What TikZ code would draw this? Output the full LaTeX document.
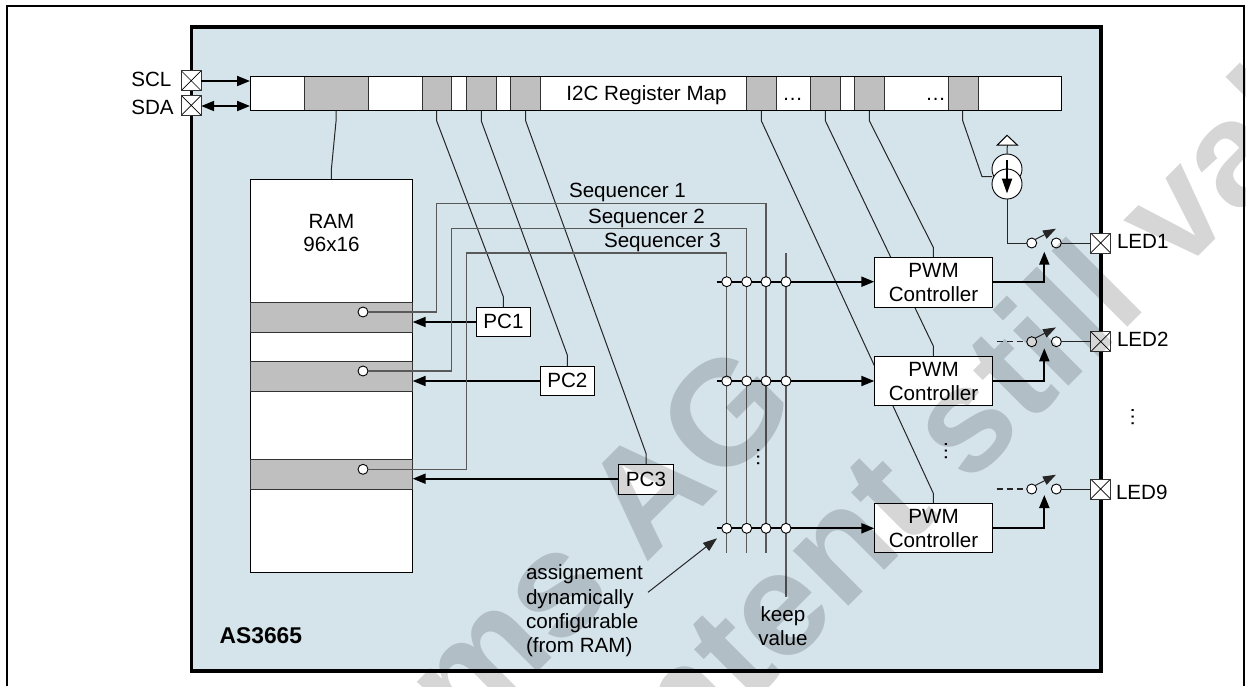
\documentclass[tikz,border=0pt]{standalone}
\usepackage{fontspec}
\setmainfont{Liberation Sans}
\usetikzlibrary{arrows.meta,calc}
\pgfdeclarelayer{back}
\pgfsetlayers{back,main}
\definecolor{chipfill}{HTML}{D5E3EB}
\definecolor{cellgray}{HTML}{BFBFBF}
\definecolor{wirecol}{HTML}{262626}
\newcommand{\bx}[6][]{\node[#1,anchor=north west,minimum width=#4pt-#3pt,minimum height=#6pt-#5pt] (#2) at (#3,#5) {};}
\tikzset{
  x=1pt,y=-1pt,
  lbl/.style={inner sep=0pt,outer sep=0pt,font=\fontsize{20.6}{25}\selectfont,anchor=base},
  lblw/.style={lbl,anchor=base west},
  wbox/.style={draw=black,fill=white,line width=1pt,inner sep=0pt,outer sep=0pt},
  gbox/.style={draw=black!80,fill=cellgray,line width=1pt,inner sep=0pt,outer sep=0pt},
  wire/.style={draw=wirecol,line width=1pt},
  seqwire/.style={draw=black!65,line width=1.2pt},
  bus/.style={draw=black,line width=2pt},
  head/.style={-{Triangle[length=13pt,width=10pt]}},
  dhead/.style={{Triangle[length=13pt,width=10pt]}-{Triangle[length=13pt,width=10pt]}},
  dot/.style={circle,draw=black,fill=white,line width=0.9pt,minimum size=10pt,inner sep=0pt,outer sep=0pt},
  pad/.style={rectangle,draw=black!80,fill=white,line width=1pt,minimum size=20pt,inner sep=0pt,outer sep=0pt,
    path picture={\draw[black,line width=0.7pt] (path picture bounding box.north west)--(path picture bounding box.south east)
      (path picture bounding box.north east)--(path picture bounding box.south west);}},
  vdots/.style={inner sep=0pt,outer sep=0pt,rotate=90,font=\fontsize{20.8}{25}\selectfont},
  mark text/.style={inner sep=0pt,outer sep=0pt,rotate=45,anchor=base west,text=black!16,font=\fontsize{148}{148}\selectfont\bfseries},
}
\begin{document}
\begin{tikzpicture}
\useasboundingbox (0,0) rectangle (1246,686);
\clip (0,0) rectangle (1246,686);
% page frame and chip on the back layer
\begin{pgfonlayer}{back}
\coordinate (fa) at (7,686); \coordinate (fb) at (7,5.7); \coordinate (fc) at (1244.3,5.7); \coordinate (fd) at (1244.3,686);
\draw[black,line width=2pt] (fa)--(fb)--(fc)--(fd);
\bx[draw=black,fill=chipfill,line width=3.6pt,inner sep=0pt,outer sep=0pt]{chip}{191.5}{1100.7}{27}{670.7}
\end{pgfonlayer}
% register map
\bx[wbox]{regmap}{250}{1061}{76}{110.5}
\bx[gbox]{rc0}{304.3}{368.3}{76}{110.5}
\bx[gbox]{rc1}{422.3}{451.7}{76}{110.5}
\bx[gbox]{rc2}{466.7}{496.3}{76}{110.5}
\bx[gbox]{rc3}{510.7}{540}{76}{110.5}
\bx[gbox]{rc4}{746.7}{776.3}{76}{110.5}
\bx[gbox]{rc5}{810.7}{840.3}{76}{110.5}
\bx[gbox]{rc6}{854.7}{884.3}{76}{110.5}
\bx[gbox]{rc7}{948.3}{978}{76}{110.5}
\draw[black,line width=1pt] (regmap.north west) rectangle (regmap.south east);
\node[lbl] (regtxt) at (646.5,100.5) {I2C Register Map};
\node[lbl] (el1) at (792.7,100) {…};
\node[lbl] (el2) at (935.7,100) {…};
% RAM
\bx[wbox]{ram}{250.3}{412.7}{179}{572.3}
\bx[gbox]{row1}{250.3}{412.7}{302.3}{332}
\bx[gbox]{row2}{250.3}{412.7}{361.3}{391}
\bx[gbox]{row3}{250.3}{412.7}{459.3}{489}
\node[lbl] (ramt) at (331.5,228.3) {RAM};
\node[lbl] (ramu) at (331.5,251.7) {96x16};
% PC boxes
\bx[wbox]{pc1}{476.3}{530.7}{307.3}{336.7}
\bx[wbox]{pc2}{540}{594.7}{366}{395.7}
\bx[wbox]{pc3}{618.7}{673.3}{464.3}{494}
\node[lbl] (pc1t) at (503.5,328.6) {PC1};
\node[lbl] (pc2t) at (567.3,387.9) {PC2};
\node[lbl] (pc3t) at (646,486.2) {PC3};
% pads
\node[pad] (scl) at (191.2,80.7) {};
\node[pad] (sda) at (191.2,105.3) {};
\node[lblw] (sclt) at (131.3,86) {SCL};
\node[lblw] (sdat) at (131.3,114.7) {SDA};
\draw[bus,head] (scl.east |- 0,81) -- (regmap.west |- 0,81);
\draw[bus,dhead] (sda.east |- 0,106) -- (regmap.west |- 0,106);
% register wires
\draw[wire] (rc0.south -| 336,0) -- (336,121.5) -- (331.3,170) -- (ram.north -| 331.3,0);
\draw[wire] (rc1.south -| 436.7,0) -- (436.7,121) -- (503.3,296.7) -- (pc1.north -| 503.3,0);
\draw[wire] (rc2.south -| 481.3,0) -- (481.3,121) -- (567.3,355) -- (pc2.north);
\draw[wire] (rc3.south -| 525.7,0) -- (525.7,121) -- (646,453.3) -- (pc3.north);
% PC arrows
\path (row1.east |- 0,322) coordinate (r1in) (row2.east |- 0,381) coordinate (r2in) (row3.east |- 0,478.7) coordinate (r3in);
\draw[bus,head] (pc1.west |- r1in) -- (r1in);
\draw[bus,head] (pc2.west |- r2in) -- (r2in);
\draw[bus,head] (pc3.west |- r3in) -- (r3in);
% sequencer wires
\node[dot] (c1) at (363,312) {};
\node[dot] (c2) at (363,371) {};
\node[dot] (c3) at (363,469.3) {};
\coordinate (s1end) at (766,552.7);
\coordinate (s2end) at (746.7,552.7);
\coordinate (s3end) at (726.7,552.7);
\coordinate (ktop) at (786,253);
\coordinate (kend) at (786,596.7);
\draw[seqwire] (c1.east) -- (436.7,312) -- (436.7,203.3) -- (s1end |- 0,203.3) -- (s1end);
\draw[seqwire] (c2.east) -- (451.7,371) -- (451.7,228.3) -- (s2end |- 0,228.3) -- (s2end);
\draw[seqwire] (c3.east) -- (466.7,469.3) -- (466.7,253) -- (s3end |- 0,253) -- (s3end);
\draw[seqwire] (ktop) -- (kend);
\node[lblw] (sq1) at (569,197.5) {Sequencer 1};
\node[lblw] (sq2) at (588,223.3) {Sequencer 2};
\node[lblw] (sq3) at (604,247.7) {Sequencer 3};
% PWM boxes, with the long diagonal wires passing behind them
\node[wbox,minimum width=118.4pt,minimum height=49.6pt,anchor=north west] (pwm1) at (874.3,257.7) {};
\node[wbox,minimum width=118.4pt,minimum height=49.3pt,anchor=north west] (pwm2) at (874.3,356) {};
\node[wbox,minimum width=118.4pt,minimum height=49pt,anchor=north west] (pwm3) at (874.3,503.7) {};
\begin{pgfonlayer}{back}
\draw[wire] (rc4.south -| 761.3,0) -- (761.3,120.7) -- (933.3,493.3) -- (pwm3.north -| 933.3,0);
\draw[wire] (rc5.south -| 825.3,0) -- (825.3,120.7) -- (933.3,346) -- (pwm2.north -| 933.3,0);
\draw[wire] (rc6.south -| 869.3,0) -- (869.3,120.7) -- (933.3,247.3) -- (pwm1.north -| 933.3,0);
\end{pgfonlayer}
\foreach \nm/\ya/\yb in {p1/277.3/301.7,p2/376/400,p3/523.3/547.7}{
  \node[lbl] (\nm a) at (933.5,\ya) {PWM};
  \node[lbl] (\nm b) at (933.5,\yb) {Controller};
}
% crossbars
\foreach \r/\y/\p in {1/281.7/pwm1,2/381/pwm2,3/528.3/pwm3}{
  \coordinate (bs\r) at (716.7,\y);
  \draw[bus,head] (bs\r) -- (\p.west |- bs\r);
  \foreach \c/\xx in {a/726.7,b/746.7,c/766,d/786}{ \node[dot] (x\r\c) at (\xx,\y) {}; }
}
\node[vdots] (vd1) at (758.3,456.7) {…};
\node[vdots] (vd2) at (946,451.2) {…};
\node[vdots] (vd3) at (1132.7,416.7) {…};
% current source
\node[dot,minimum size=30pt] (cs1) at (1007,169) {};
\node[dot,minimum size=30pt] (cs2) at (1007,184) {};
\coordinate (csa) at (1007,160);
\coordinate (csb) at (1007,193.5);
\draw[bus,-{Triangle[length=15pt,width=10pt]}] (csa) -- (csb);
\coordinate (tria) at (1007,135.3);
\coordinate (trib) at (997.3,145);
\coordinate (tric) at (1017.3,145);
\draw[black,fill=white,line width=1pt] (tria)--(trib)--(tric)--cycle;
\draw[wire] ($(trib)!0.5!(tric)$) -- (cs1.north);
\draw[wire] (rc7.south -| 962.7,0) -- (962.7,120.7) -- (982,176.7) -- (cs2.west |- 0,176.7);
% switches and outputs
\foreach \r/\y/\tipy/\py/\p/\lab/\lx/\ly in {1/243/251.7/281.7/pwm1/LED1/1117/248.3,2/341.7/348.3/381/pwm2/LED2/1117/346,3/489/495/528.3/pwm3/LED9/1116/499.3}{
  \node[dot] (sl\r) at (1031.7,\y) {};
  \node[dot] (sr\r) at (1056.3,\y) {};
  \node[pad] (led\r) at (1100.7,\y) {};
  \node[lblw] (ledt\r) at (\lx,\ly) {\lab};
  \coordinate (sw\r) at (1056,\y-14.3);
  \coordinate (ti\r) at (1044.3,\tipy);
  \draw[wire] (sr\r.east) -- (led\r.west);
  \draw[wire,-{Triangle[length=13pt,width=9pt]}] (sl\r.north east) -- (sw\r);
  \draw[bus,head] (\p.east |- 0,\py) -- (1044.3,\py) -- (ti\r);
}
\draw[wire] (cs2.south) -- (1007,243) -- (sl1.west);
\coordinate (dl2) at (996.7,341.7);
\coordinate (dl3) at (996.7,489);
\draw[wire,dash pattern=on 6pt off 4pt] (dl2) -- (sl2.west);
\draw[wire,line width=1.5pt,dash pattern=on 6pt off 4pt] (dl3) -- (sl3.west);
% annotations
\node[lblw] (as1) at (526,579.3) {assignement};
\node[lblw] (as2) at (526,604) {dynamically};
\node[lblw] (as3) at (526,628.3) {configurable};
\node[lblw] (as4) at (526,652) {(from RAM)};
\coordinate (asa) at (648,592.3);
\coordinate (asb) at (717,538.3);
\draw[wire,-{Triangle[length=14pt,width=10pt]}] (asa) -- (asb);
\node[lbl] (kv1) at (783,621.7) {keep};
\node[lbl] (kv2) at (783,645) {value};
\node[lblw,font=\fontsize{22.8}{27}\selectfont\bfseries] (chipn) at (219.7,643.3) {AS3665};
% watermark
\begin{scope}[blend mode=multiply]
\node[mark text] (wm1) at (407,803) {ams AG};
\node[mark text] (wm2) at (562,893) {content still valid};
\end{scope}
\end{tikzpicture}
\end{document}
